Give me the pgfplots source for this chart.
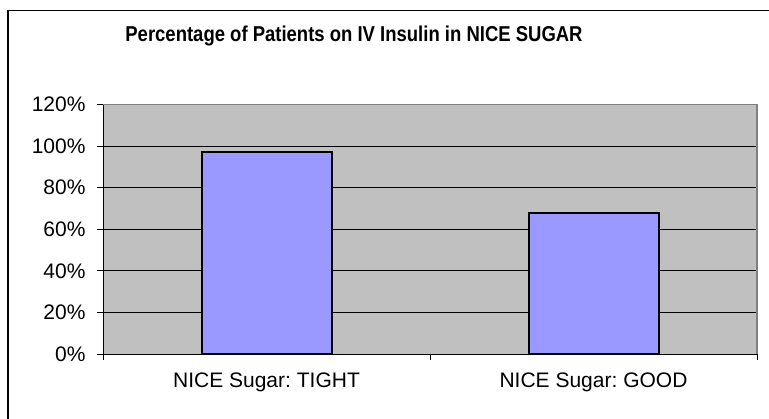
\documentclass[border=0pt]{standalone}
\usepackage{pgfplots}
\pgfplotsset{compat=1.18}
\usepackage{graphicx}
\usepackage{fontspec}
\setmainfont{Liberation Sans}
\frenchspacing
\definecolor{plotbg}{HTML}{C0C0C0}
\definecolor{barfill}{HTML}{9999FF}
\definecolor{edgegray}{HTML}{808080}
\begin{document}
\begin{tikzpicture}
\useasboundingbox (0bp,0bp) rectangle (769bp,419bp);
\draw[line width=1.3bp,black] (8bp,-2bp) -- (8bp,408.5bp) -- (771bp,408.5bp);
\node[anchor=base] at (354bp,377.3bp) {\scalebox{0.86}[1]{\fontsize{21.5bp}{25bp}\selectfont\bfseries Percentage of Patients on IV Insulin in NICE SUGAR}};
\begin{axis}[
  at={(103bp,65bp)}, anchor=south west,
  scale only axis, width=654bp, height=249.5bp,
  xmin=-0.5, xmax=1.5, ymin=0, ymax=120,
  axis x line*=bottom, axis y line*=left,
  axis line style={-, black, line width=1bp},
  axis background/.style={fill=plotbg},
  xtick={-0.5,0.5,1.5},
  xticklabels={},
  extra x ticks={0,1},
  extra x tick labels={NICE Sugar: TIGHT, NICE Sugar: GOOD},
  extra x tick style={major tick length=0pt, xticklabel style={yshift=-15bp}},
  ytick={0,20,...,120},
  yticklabel={\pgfmathprintnumber{\tick}\%},
  tick style={black, line width=1bp},
  major tick length=6bp,
  tick align=outside,
  ymajorgrids,
  grid style={black, line width=0.9bp},
  /pgf/number format/assume math mode=true,
  tick label style={font=\fontsize{21bp}{25bp}\selectfont, text=black},
  yticklabel style={xshift=-8bp},
  clip=false,
]
\addplot[ybar, bar width=130bp, fill=barfill, draw=black, line width=2bp] coordinates {(0,97) (1,68)};
\draw[edgegray, line width=1.5bp] (rel axis cs:0,1) -- (rel axis cs:1,1) -- (rel axis cs:1,0);
\end{axis}
\end{tikzpicture}
\end{document}
